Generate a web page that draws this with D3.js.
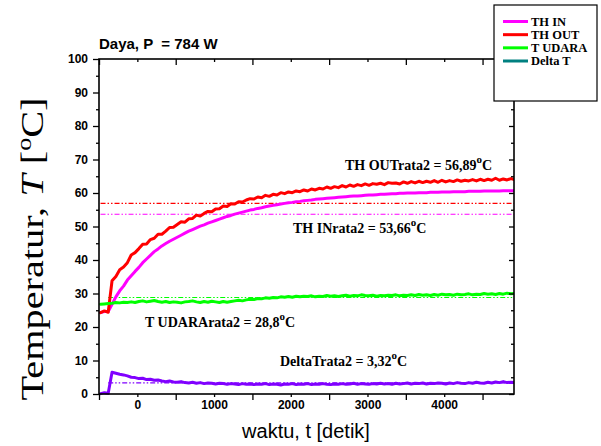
<!DOCTYPE html>
<html>
<head>
<meta charset="utf-8">
<script src="https://cdn.jsdelivr.net/npm/d3@7"></script>
<style>
  body { margin: 0; background: #fff; }
  svg { display: block; }
</style>
</head>
<body>
<svg id="chart" width="601" height="446"></svg>
<script>
// Heat exchanger run at P = 784 W, temperatures logged every 50 s
const time = d3.range(-480, 4950, 50);

const seriesNames = ["TH IN", "TH OUT", "T UDARA", "Delta T"];

const thIn = [
  24.3, 24.6, 24.6, 26.8, 29.0, 30.8, 32.2, 34.0, 35.3, 36.6,
  37.8, 39.2, 40.3, 41.4, 42.5, 43.3, 44.2, 44.9, 45.6, 46.2,
  46.8, 47.4, 48.0, 48.6, 49.1, 49.6, 50.1, 50.5, 51.0, 51.4,
  51.8, 52.2, 52.6, 53.0, 53.3, 53.7, 54.0, 54.3, 54.6, 54.9,
  55.1, 55.4, 55.6, 55.9, 56.1, 56.3, 56.5, 56.7, 56.9, 57.1,
  57.2, 57.4, 57.5, 57.7, 57.8, 57.9, 58.1, 58.2, 58.3, 58.4,
  58.5, 58.6, 58.7, 58.8, 58.9, 59.0, 59.1, 59.1, 59.2, 59.3,
  59.4, 59.4, 59.5, 59.6, 59.6, 59.7, 59.8, 59.8, 59.9, 59.9,
  60.0, 60.0, 60.0, 60.1, 60.1, 60.1, 60.2, 60.2, 60.2, 60.3,
  60.3, 60.3, 60.4, 60.4, 60.4, 60.4, 60.5, 60.5, 60.5, 60.5,
  60.6, 60.6, 60.6, 60.6, 60.6, 60.7, 60.7, 60.7, 60.7
];

const thOut = [
  24.3, 24.8, 24.4, 33.8, 35.1, 37.1, 37.9, 39.2, 41.5, 42.2,
  43.4, 44.7, 44.8, 46.1, 46.5, 47.7, 47.7, 48.6, 49.7, 49.8,
  50.6, 51.4, 51.3, 52.3, 52.4, 53.4, 53.1, 53.9, 54.5, 54.4,
  55.2, 55.3, 56.1, 56.0, 56.8, 56.7, 57.4, 57.3, 57.9, 58.3,
  58.2, 58.8, 58.6, 59.3, 59.0, 59.6, 59.4, 60.1, 59.8, 60.3,
  60.1, 60.6, 60.4, 60.9, 60.6, 61.2, 60.9, 61.4, 61.2, 61.8,
  61.4, 61.9, 61.6, 62.2, 61.8, 62.4, 62.0, 62.5, 62.2, 62.7,
  62.3, 62.8, 62.6, 62.9, 62.5, 63.1, 62.9, 63.0, 62.7, 63.3,
  62.9, 63.4, 63.0, 63.5, 63.1, 63.5, 63.2, 63.7, 63.2, 63.8,
  63.3, 63.7, 63.4, 63.9, 63.5, 63.8, 63.6, 64.0, 63.6, 64.1,
  63.7, 64.1, 63.8, 64.4, 63.8, 64.2, 63.9, 64.3, 64.0
];

const tUdara = [
  26.8, 26.9, 27.0, 27.1, 27.3, 27.2, 27.4, 27.3, 27.5, 27.3,
  27.6, 27.8, 27.5, 27.7, 27.9, 27.6, 27.4, 27.6, 27.3, 27.5,
  27.4, 27.2, 27.5, 27.6, 27.8, 27.5, 27.3, 27.6, 27.4, 27.7,
  27.5, 27.3, 27.6, 27.4, 27.6, 27.8, 28.0, 27.8, 28.1, 28.3,
  28.2, 28.5, 28.4, 28.7, 28.6, 28.8, 28.7, 29.0, 28.9, 29.1,
  28.9, 29.2, 29.0, 29.2, 29.1, 29.3, 29.0, 29.2, 29.1, 29.4,
  29.2, 29.3, 29.1, 29.3, 29.5, 29.2, 29.4, 29.3, 29.6, 29.4,
  29.3, 29.5, 29.2, 29.4, 29.3, 29.5, 29.4, 29.6, 29.3, 29.5,
  29.4, 29.6, 29.4, 29.7, 29.5, 29.6, 29.4, 29.7, 29.5, 29.8,
  29.6, 29.7, 29.5, 29.8, 29.6, 29.7, 29.9, 29.6, 29.8, 29.7,
  30.0, 29.8, 29.9, 29.7, 30.0, 29.8, 30.1, 29.9, 30.0
];

const deltaT = [
  0.1, 0.4, 0.2, 6.5, 6.2, 5.9, 5.7, 5.4, 5.0, 4.9,
  4.6, 4.7, 4.3, 4.4, 4.1, 4.2, 3.9, 3.7, 3.9, 3.6,
  3.5, 3.7, 3.4, 3.3, 3.5, 3.2, 3.4, 3.1, 3.3, 3.2,
  3.0, 3.2, 3.1, 2.9, 3.1, 3.0, 2.8, 3.1, 2.9, 3.0,
  2.8, 3.0, 2.9, 3.1, 2.8, 3.0, 2.9, 2.7, 3.0, 2.9,
  3.1, 2.8, 3.0, 2.9, 3.1, 2.8, 3.0, 2.9, 3.1, 2.9,
  2.8, 3.0, 2.9, 3.1, 2.9, 3.0, 3.2, 2.9, 3.1, 3.0,
  2.9, 3.1, 3.0, 3.2, 3.0, 3.1, 2.9, 3.2, 3.0, 3.1,
  3.3, 3.0, 3.2, 3.1, 3.3, 3.0, 3.2, 3.1, 3.3, 3.2,
  3.0, 3.3, 3.1, 3.4, 3.2, 3.1, 3.4, 3.2, 3.5, 3.3,
  3.2, 3.5, 3.3, 3.6, 3.4, 3.7, 3.4, 3.5, 3.4
];

// Averages ("rata2") of each series and the time they are counted from
const averages = [53.66, 56.89, 28.8, 3.32];
const averageFrom = [-480, -480, -380, -380];
const averagePrefix = ["TH INrata2 = ", "TH OUTrata2 = ", "T UDARArata2 = ", "DeltaTrata2 = "];

const xTickLabels = [0, 1000, 2000, 3000, 4000];
const xHalfTicks = [-500, 500, 1500, 2500, 3500, 4500];
const yTickLabels = [0, 10, 20, 30, 40, 50, 60, 70, 80, 90, 100];
const yMinorTicks = [5, 15, 25, 35, 45, 55, 65, 75, 85, 95];

// ---- drawing ----
const lineColors = ["#ff00ff", "#ff0000", "#00ff00", "#8000ff"];
const legendColors = ["#ff00ff", "#ff0000", "#00ff00", "#008080"];
const values = [thIn, thOut, tUdara, deltaT];

const svg = d3.select("#chart");
const plot = { left: 99, right: 514, top: 59, bottom: 394 };

const x = d3.scaleLinear().domain([-500, 4910]).range([plot.left, plot.right]);
const y = d3.scaleLinear().domain([0, 100]).range([plot.bottom, plot.top]);

const sans = "Arial, 'Liberation Sans', Helvetica, sans-serif";
const serif = "'Times New Roman', 'Liberation Serif', Times, serif";

svg.append("rect").attr("width", 601).attr("height", 446).attr("fill", "#fff");

svg.append("defs").append("clipPath").attr("id", "plotClip")
  .append("rect")
  .attr("x", plot.left).attr("y", plot.top - 5)
  .attr("width", plot.right - plot.left).attr("height", plot.bottom - plot.top + 10);

// average reference lines (dash-dot-dot)
const avgG = svg.append("g").attr("clip-path", "url(#plotClip)");
averages.forEach((v, i) => {
  avgG.append("line")
    .attr("x1", x(averageFrom[i])).attr("x2", x(4910))
    .attr("y1", y(v)).attr("y2", y(v))
    .attr("stroke", lineColors[i])
    .attr("stroke-width", 1.1)
    .attr("stroke-dasharray", "5,2,1.5,2,1.5,2");
});

// measured series
const line = d3.line()
  .x((d, i) => x(time[i]))
  .y(d => y(d))
  .curve(d3.curveLinear);

const linesG = svg.append("g").attr("clip-path", "url(#plotClip)");
values.forEach((vals, i) => {
  linesG.append("path")
    .datum(vals)
    .attr("d", line)
    .attr("fill", "none")
    .attr("stroke", lineColors[i])
    .attr("stroke-width", 3)
    .attr("stroke-linejoin", "round")
    .attr("stroke-linecap", "round");
});

// axes
function styleAxis(g) {
  g.select(".domain").remove();
  g.selectAll(".tick line").attr("stroke", "#000").attr("stroke-width", 1.3);
  g.selectAll(".tick text")
    .attr("fill", "#000")
    .style("font-family", sans)
    .style("font-size", "12px")
    .style("font-weight", "bold");
}

svg.append("g").attr("transform", `translate(0,${plot.bottom})`)
  .call(d3.axisBottom(x).tickValues(xTickLabels).tickSize(3).tickPadding(3).tickFormat(d3.format("d")))
  .call(styleAxis);
svg.append("g").attr("transform", `translate(0,${plot.bottom})`)
  .call(d3.axisBottom(x).tickValues(xHalfTicks).tickSize(6).tickFormat(""))
  .call(styleAxis);

// top axis, ticks pointing inward
svg.append("g").attr("transform", `translate(0,${plot.top})`)
  .call(d3.axisBottom(x).tickValues(xTickLabels).tickSize(3).tickFormat(""))
  .call(styleAxis);
svg.append("g").attr("transform", `translate(0,${plot.top})`)
  .call(d3.axisBottom(x).tickValues(xHalfTicks).tickSize(6).tickFormat(""))
  .call(styleAxis);

svg.append("g").attr("transform", `translate(${plot.left},0)`)
  .call(d3.axisLeft(y).tickValues(yTickLabels).tickSize(6).tickPadding(5).tickFormat(d3.format("d")))
  .call(styleAxis);
svg.append("g").attr("transform", `translate(${plot.left},0)`)
  .call(d3.axisLeft(y).tickValues(yMinorTicks).tickSize(3).tickFormat(""))
  .call(styleAxis);

// right axis, ticks pointing inward
svg.append("g").attr("transform", `translate(${plot.right},0)`)
  .call(d3.axisLeft(y).tickValues(yTickLabels).tickSize(5).tickFormat(""))
  .call(styleAxis);
svg.append("g").attr("transform", `translate(${plot.right},0)`)
  .call(d3.axisLeft(y).tickValues(yMinorTicks).tickSize(3).tickFormat(""))
  .call(styleAxis);

// frame
svg.append("rect")
  .attr("x", plot.left).attr("y", plot.top)
  .attr("width", plot.right - plot.left).attr("height", plot.bottom - plot.top)
  .attr("fill", "none").attr("stroke", "#000").attr("stroke-width", 1.6);

// average annotations
const annotPos = [[293, 232.7], [345, 170], [145, 326.7], [280, 365.7]];
const fmtComma = v => String(v).replace(".", ",");
averages.forEach((v, i) => {
  const t = svg.append("text")
    .attr("x", annotPos[i][0]).attr("y", annotPos[i][1])
    .style("font-family", serif).style("font-weight", "bold").style("font-size", "14px")
    .attr("fill", "#000");
  t.append("tspan").text(averagePrefix[i] + fmtComma(v));
  t.append("tspan").attr("dy", -7).style("font-size", "11px").text("o");
  t.append("tspan").attr("dy", 7).text("C");
});

// title
svg.append("text")
  .attr("x", 99).attr("y", 49)
  .style("font-family", sans).style("font-weight", "bold").style("font-size", "15px")
  .style("white-space", "pre")
  .text("Daya, P  = 784 W");

// axis titles
svg.append("text")
  .attr("x", 306).attr("y", 438)
  .attr("text-anchor", "middle")
  .style("font-family", sans).style("font-size", "20px")
  .text("waktu, t [detik]");

const yTitle = svg.append("text")
  .attr("transform", "translate(43,249) rotate(-90)")
  .attr("text-anchor", "middle")
  .attr("textLength", 303)
  .attr("lengthAdjust", "spacingAndGlyphs")
  .style("font-family", serif).style("font-size", "31px");
yTitle.append("tspan").text("Temperatur, ");
yTitle.append("tspan").style("font-style", "italic").text("T");
yTitle.append("tspan").text(" [");
yTitle.append("tspan").attr("dy", -12).style("font-size", "20px").text("o");
yTitle.append("tspan").attr("dy", 12).text("C]");

// legend
const lg = svg.append("g");
lg.append("rect")
  .attr("x", 494).attr("y", 5).attr("width", 103).attr("height", 96)
  .attr("fill", "#fff").attr("stroke", "#000").attr("stroke-width", 1.2);
const rowY = d3.scalePoint().domain(seriesNames).range([21.5, 61]);
seriesNames.forEach((name, i) => {
  lg.append("line")
    .attr("x1", 503).attr("x2", 528)
    .attr("y1", rowY(name)).attr("y2", rowY(name))
    .attr("stroke", legendColors[i]).attr("stroke-width", 3);
  lg.append("text")
    .attr("x", 531).attr("y", rowY(name) + 4)
    .style("font-family", serif).style("font-weight", "bold").style("font-size", "12.5px")
    .text(name);
});
</script>
</body>
</html>
